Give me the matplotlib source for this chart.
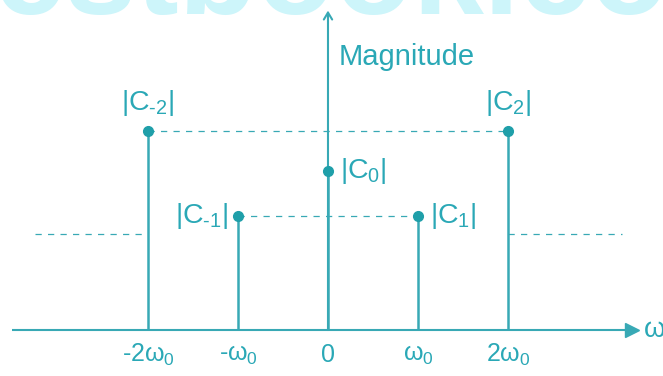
import matplotlib
matplotlib.use("Agg")
import matplotlib.pyplot as plt

plt.rcParams['font.family'] = ['Liberation Sans', 'DejaVu Sans']
plt.rcParams['mathtext.fontset'] = 'custom'
plt.rcParams['mathtext.rm'] = 'Liberation Sans'
plt.rcParams['mathtext.it'] = 'Liberation Sans'

# harmonic index (multiples of w0) and the magnitude of each coefficient
harmonics = [-2, -1, 0, 1, 2]
magnitudes = [1.0, 0.575, 0.80, 0.575, 1.0]
coef_labels = [r'$|C_{\text{-}2}|$', r'$|C_{\text{-}1}|$', r'$|C_{0}|$', r'$|C_{1}|$', r'$|C_{2}|$']
tick_labels = [r'-2$\omega_0$', r'-$\omega_0$', '0', r'$\omega_0$', r'2$\omega_0$']
side_level = 0.48

TEAL = '#38a9b5'
DOT = '#1f9fa9'
TXT = '#2aa8b6'

fig = plt.figure(figsize=(6.63, 3.76), dpi=100)
ax = fig.add_axes([0, 0, 1, 1])
ax.set_xlim(-3.644, 3.722)
ax.set_ylim(-0.231, 1.658)
ax.axis('off')

# faint watermark at the top edge
fig.text(0.5, 0.962, 'estbook.co', color='#cdf5fa', fontsize=92, fontweight='bold',
         ha='center', va='baseline', zorder=0)

# horizontal axis with filled arrowhead
ax.plot([-3.51, 3.38], [0, 0], color=TEAL, lw=1.5, solid_capstyle='butt')
ax.plot([3.38], [0], marker='>', color=TEAL, markersize=10)
ax.text(3.50, 0, r'$\omega$', color=TXT, fontsize=20, va='center', ha='left')

# vertical axis with open arrowhead
ax.annotate('', xy=(0, 1.605), xytext=(0, 0),
            arrowprops=dict(arrowstyle='->,head_length=0.5,head_width=0.3',
                            color=TEAL, lw=1.5, shrinkA=0, shrinkB=0))
ax.text(0.12, 1.37, 'Magnitude', color=TXT, fontsize=21, va='center', ha='left')

# dashed reference lines
dash = dict(color=TEAL, lw=0.9, ls=(0, (5, 5)))
ax.plot([harmonics[0], harmonics[-1]], [magnitudes[0]] * 2, **dash)
ax.plot([harmonics[1], harmonics[3]], [magnitudes[1]] * 2, **dash)
ax.plot([-3.26, harmonics[0]], [side_level] * 2, **dash)
ax.plot([harmonics[-1], 3.27], [side_level] * 2, **dash)

# stems and dots
ax.vlines(harmonics, 0, magnitudes, color=TEAL, lw=1.8)
ax.plot(harmonics, magnitudes, 'o', color=DOT, markersize=7, zorder=3)

# coefficient labels
offsets = {-2: (0, 28, 'center', 'center'), 2: (0, 28, 'center', 'center'),
           -1: (-10, 0, 'right', 'center'), 1: (12, 0, 'left', 'center'),
           0: (12, 0, 'left', 'center')}
for h, m, lab in zip(harmonics, magnitudes, coef_labels):
    dx, dy, ha, va = offsets[h]
    ax.annotate(lab, xy=(h, m), xytext=(dx, dy), textcoords='offset pixels',
                color=TXT, fontsize=20.5, ha=ha, va=va)

# frequency tick labels under the axis
for h, lab in zip(harmonics, tick_labels):
    ax.annotate(lab, xy=(h, 0), xytext=(0, -25), textcoords='offset pixels',
                color=TXT, fontsize=18, ha='center', va='center')

fig.savefig('out.png', dpi=100)
